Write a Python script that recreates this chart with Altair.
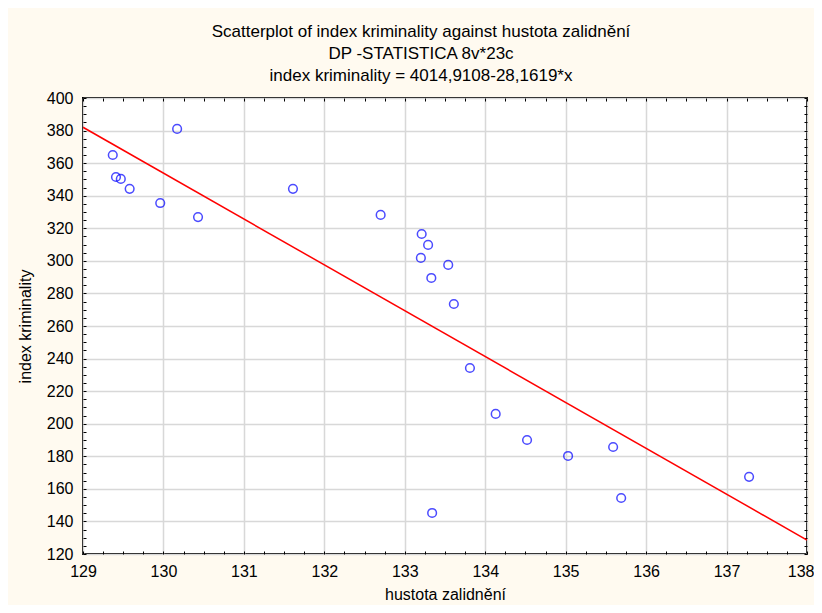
import altair as alt
import pandas as pd

# hustota zalidnění (x) and index kriminality (y), 23 cases
hustota = [129.37, 130.17, 129.41, 129.47, 129.58, 129.96, 130.43, 131.61,
           132.70, 133.21, 133.29, 133.20, 133.54, 133.33, 133.61, 133.81,
           134.13, 134.52, 135.03, 135.59, 135.69, 137.28, 133.34]
kriminalita = [365.0, 381.0, 351.5, 350.3, 344.2, 335.5, 326.9, 344.2,
               328.2, 316.5, 309.8, 301.8, 297.5, 289.5, 273.5, 234.2,
               206.0, 190.0, 180.2, 185.7, 154.4, 167.4, 145.2]

intercept = 4014.9108
slope = -28.1619
x_range = [129, 138]
y_range = [120, 400]

x_major = list(range(129, 139))
y_major = list(range(120, 401, 20))
x_minor = [129 + i * 0.25 for i in range(37)]
y_minor = list(range(120, 401, 5))

df = pd.DataFrame({"x": hustota, "y": kriminalita})
line_df = pd.DataFrame({"x": x_range,
                        "y": [intercept + slope * v for v in x_range]})

W, H = 724, 456
FONT = "Liberation Sans"

xs = alt.Scale(domain=x_range, nice=False, zero=False)
ys = alt.Scale(domain=y_range, nice=False, zero=False)

last_test = "datum.value == %d" % x_range[1]

points = alt.Chart(df).mark_point(
    shape="circle", filled=False, color="#0000ff", size=75, strokeWidth=1.5
).encode(
    x=alt.X("x:Q", scale=xs, title="hustota zalidnění",
            axis=alt.Axis(orient="bottom", values=x_major, grid=True,
                          gridColor="#d8d8d8", gridWidth=1.5, ticks=False,
                          domain=False, labelPadding=9, labelFontSize=16,
                          labelFont=FONT, labelColor="#000",
                          labelAlign={"condition": {"test": last_test, "value": "right"},
                                      "value": "center"},
                          labelOffset={"condition": {"test": last_test, "value": 7},
                                       "value": 0},
                          titleFont=FONT, titleFontSize=16, titleFontWeight="normal",
                          titleColor="#000", titlePadding=7,
                          labelFlush=False)),
    y=alt.Y("y:Q", scale=ys, title="index kriminality",
            axis=alt.Axis(orient="left", values=y_major, grid=True,
                          gridColor="#d8d8d8", gridWidth=1.5, ticks=False,
                          domain=False, labelPadding=10, labelFontSize=16,
                          labelFont=FONT, labelColor="#000",
                          titleFont=FONT, titleFontSize=16, titleFontWeight="normal",
                          titleColor="#000", titlePadding=13,
                          labelFlush=False)),
)

reg = alt.Chart(line_df).mark_line(color="#ff0000", strokeWidth=1.5, clip=True).encode(
    x=alt.X("x:Q", scale=xs, axis=None),
    y=alt.Y("y:Q", scale=ys, axis=None),
)


def tick_layer(xorient, yorient):
    return alt.Chart(df).mark_point(opacity=0).encode(
        x=alt.X("x:Q", scale=xs, title=None,
                axis=alt.Axis(orient=xorient, offset=-H, values=x_minor,
                              labels=False, domain=False, grid=False,
                              ticks=True, tickSize=3, tickColor="#000",
                              tickWidth=1)),
        y=alt.Y("y:Q", scale=ys, title=None,
                axis=alt.Axis(orient=yorient, offset=-W, values=y_minor,
                              labels=False, domain=False, grid=False,
                              ticks=True, tickSize=3, tickColor="#000",
                              tickWidth=1)),
    )


chart = alt.layer(
    points, reg, tick_layer("top", "right"), tick_layer("bottom", "left")
).resolve_axis(x="independent", y="independent").properties(
    width=W, height=H,
    autosize=alt.AutoSizeParams(type="none"),
    padding={"left": 75, "top": 90, "right": 7, "bottom": 51},
    background="#fffaf0",
    title=alt.TitleParams(
        text=["Scatterplot of index kriminality against hustota zalidnění",
              "DP -STATISTICA 8v*23c",
              "index kriminality = 4014,9108-28,1619*x"],
        font=FONT, fontSize=17, fontWeight="normal", color="#000",
        lineHeight=22, anchor="middle", offset=5, dx=-24,
    ),
).configure_view(stroke="#000", strokeWidth=2, fill="#ffffff")

chart.save("out.html", embed_options={"renderer": "svg", "actions": False})
